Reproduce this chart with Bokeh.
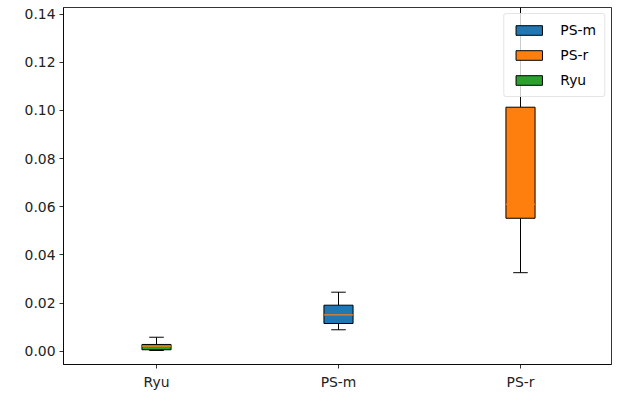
from bokeh.plotting import figure
from bokeh.models import Range1d, FixedTicker, NumeralTickFormatter, Legend, LegendItem
from bokeh.embed import file_html
from bokeh.resources import INLINE

# Data
categories = ["Ryu", "PS-m", "PS-r"]
positions = [1, 2, 3]
whisker_low = [0.0003, 0.0089, 0.0326]
q1 = [0.0006, 0.0115, 0.0552]
median = [0.0021, 0.0151, 0.0610]
q3 = [0.0028, 0.0191, 0.1013]
whisker_high = [0.0058, 0.0245, 0.1600]
colors = ["#2ca02c", "#1f77b4", "#ff7f0e"]
legend_order = ["PS-m", "PS-r", "Ryu"]
y_ticks = [0.00, 0.02, 0.04, 0.06, 0.08, 0.10, 0.12, 0.14]

FONT = "DejaVu Sans"
FS = "13.9px"

p = figure(width=616, height=392, output_backend="svg", toolbar_location=None,
           x_range=Range1d(0.489, 3.500), y_range=Range1d(-0.00552, 0.1427),
           min_border_left=63, min_border_right=5, min_border_top=7, min_border_bottom=28)
p.background_fill_color = "white"
p.border_fill_color = "white"
p.outline_line_color = "black"
p.outline_line_width = 0.8
p.xgrid.visible = False
p.ygrid.visible = False

box_w = 0.16
cap_w = 0.08

# whiskers
p.segment(x0=positions, y0=q3, x1=positions, y1=whisker_high, line_color="black", line_width=1)
p.segment(x0=positions, y0=whisker_low, x1=positions, y1=q1, line_color="black", line_width=1)
# caps
p.segment(x0=[x - cap_w / 2 for x in positions], y0=whisker_high,
          x1=[x + cap_w / 2 for x in positions], y1=whisker_high, line_color="black", line_width=1)
p.segment(x0=[x - cap_w / 2 for x in positions], y0=whisker_low,
          x1=[x + cap_w / 2 for x in positions], y1=whisker_low, line_color="black", line_width=1)

renderers = {}
for i, cat in enumerate(categories):
    r = p.vbar(x=[positions[i]], bottom=[q1[i]], top=[q3[i]], width=box_w,
               fill_color=colors[i], line_color="black", line_width=1)
    renderers[cat] = r
# medians
p.segment(x0=[x - box_w / 2 for x in positions], y0=median,
          x1=[x + box_w / 2 for x in positions], y1=median, line_color="#ff7f0e", line_width=1.2)

items = [LegendItem(label=cat, renderers=[renderers[cat]]) for cat in legend_order]

legend = Legend(items=items, location="top_right")
legend.margin = 6
legend.padding = 8
legend.spacing = 9
legend.glyph_width = 33
legend.glyph_height = 12
legend.label_height = 16
legend.label_standoff = 15
legend.label_text_font = FONT
legend.label_text_font_size = FS
legend.label_text_color = "black"
legend.border_line_color = "#cccccc"
legend.border_line_width = 1
legend.background_fill_alpha = 0.8
legend.border_radius = 3
p.add_layout(legend, "center")

# axes
p.xaxis.ticker = FixedTicker(ticks=positions)
p.xaxis.major_label_overrides = {positions[i]: categories[i] for i in range(len(categories))}
p.yaxis.ticker = FixedTicker(ticks=y_ticks)
p.yaxis.formatter = NumeralTickFormatter(format="0.00")
for ax in (p.xaxis, p.yaxis):
    ax.minor_tick_line_color = None
    ax.major_tick_in = 0
    ax.major_tick_out = 4
    ax.major_tick_line_width = 0.8
    ax.major_tick_line_color = "black"
    ax.axis_line_color = "black"
    ax.axis_line_width = 0.8
    ax.major_label_text_font = FONT
    ax.major_label_text_font_size = FS
    ax.major_label_text_color = "#222222"
p.yaxis.major_label_standoff = 4
p.xaxis.major_label_standoff = 5

open("out.html", "w").write(file_html(p, INLINE))
